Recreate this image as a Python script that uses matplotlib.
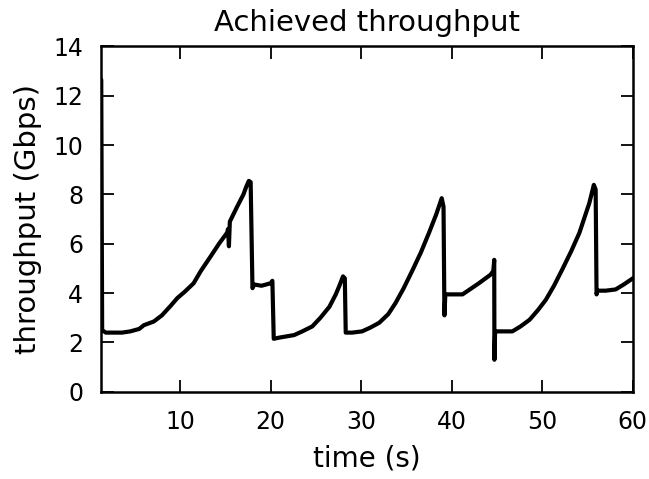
import matplotlib
matplotlib.use("Agg")
import matplotlib.pyplot as plt

# values
time_s = [1.3, 1.4, 1.8, 2.6, 3.6, 4.5, 5.5, 6.0, 7.1, 8.0, 9.0, 9.7, 10.5,
          11.5, 12.3, 13.4, 14.3, 15.2, 15.3, 15.4, 15.5, 16.3, 17.0, 17.3,
          17.6, 17.8, 18.0, 18.2, 19.0, 20.0, 20.2, 20.35, 21.0, 22.6, 23.5,
          24.6, 25.5, 26.5, 27.2, 27.6, 28.0, 28.2, 28.3, 29.0, 30.1, 31.0,
          32.0, 33.0, 33.8, 34.7, 35.7, 36.6, 37.5, 38.3, 38.9, 39.1, 39.2,
          39.3, 40.0, 41.2, 42.0, 43.0, 44.3, 44.6, 44.7, 44.72, 44.8, 45.2,
          46.7, 47.6, 48.6, 49.5, 50.4, 51.3, 52.2, 53.2, 54.1, 55.2, 55.7,
          55.9, 56.0, 56.1, 57.0, 58.1, 59.0, 60.0]
gbps = [12.65, 2.5, 2.4, 2.4, 2.4, 2.45, 2.55, 2.7, 2.85, 3.1, 3.5, 3.8, 4.05,
        4.4, 4.9, 5.5, 6.0, 6.45, 6.6, 5.9, 6.9, 7.5, 8.0, 8.3,
        8.55, 8.5, 4.2, 4.35, 4.3, 4.4, 4.5, 2.15, 2.2, 2.3, 2.45,
        2.65, 3.0, 3.45, 3.95, 4.3, 4.68, 4.6, 2.4, 2.4, 2.45, 2.6,
        2.8, 3.15, 3.6, 4.2, 4.95, 5.65, 6.45, 7.2, 7.85, 7.5, 3.1,
        3.95, 3.95, 3.95, 4.15, 4.4, 4.75, 4.9, 5.35, 1.3, 2.45, 2.45,
        2.45, 2.65, 2.92, 3.3, 3.73, 4.3, 4.95, 5.7, 6.44, 7.65, 8.39,
        8.2, 3.95, 4.1, 4.1, 4.15, 4.35, 4.6]

x_ticks = [10, 20, 30, 40, 50, 60]
y_ticks = [0, 2, 4, 6, 8, 10, 12, 14]

fig = plt.figure(figsize=(6.49, 4.79), dpi=100)
ax = fig.add_axes([0.156, 0.182, 0.819, 0.721])

ax.plot(time_s, gbps, color="black", linewidth=3.0,
        solid_joinstyle="round", solid_capstyle="round")

ax.set_xlim(time_s[0], 60)
ax.set_ylim(0, 14)
ax.set_xticks(x_ticks)
ax.set_yticks(y_ticks)

ax.tick_params(direction="in", top=True, right=True, length=9, width=1.3,
               labelsize=17)
ax.tick_params(axis="x", pad=13)
ax.tick_params(axis="y", pad=13)
for sp in ax.spines.values():
    sp.set_linewidth(1.8)

ax.set_title("Achieved throughput", fontsize=21, pad=11)
ax.set_xlabel("time (s)", fontsize=20, labelpad=8)
ax.set_ylabel("throughput (Gbps)", fontsize=21, labelpad=8)

fig.savefig("out.png", dpi=100)
